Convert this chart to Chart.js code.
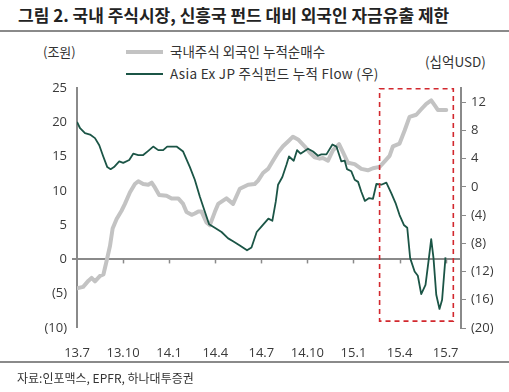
<!DOCTYPE html>
<html>
<head>
<meta charset="utf-8">
<script src="https://cdn.jsdelivr.net/npm/chart.js@4.4.1/dist/chart.umd.min.js"></script>
<style>
  html, body { margin: 0; padding: 0; background: #fff; }
  #wrap { position: relative; width: 509px; height: 392px; overflow: hidden; background: #fff;
          font-family: "Noto Sans CJK KR", "Noto Sans", sans-serif; color: #333; }
  #c { position: absolute; left: 0; top: 0; }
  .t { position: absolute; white-space: nowrap; line-height: 1; }
  #title { left: 18px; top: 6px; font-size: 17px; font-weight: bold; color: #222; }
  .rule { position: absolute; left: 0; width: 509px; height: 2px; background: #8a8a8a; }
  #unitL { left: 43px; top: 45px; font-size: 13px; }
  #unitR { left: 425px; top: 55px; font-size: 13.5px; }
  .lg { position: absolute; left: 126px; width: 37px; }
  #lg1line { top: 50px; height: 4px; background: #c3c3c3; }
  #lg2line { top: 73px; height: 2px; background: #1b5546; }
  #lg1 { left: 170px; top: 45px; font-size: 13.5px; }
  #lg2 { left: 170px; top: 67px; font-size: 13.5px; letter-spacing: 0.3px; }
  #src { left: 17px; top: 372px; font-size: 12px; }
</style>
</head>
<body>
<div id="wrap">
  <div class="t" id="title">그림 2. 국내 주식시장, 신흥국 펀드 대비 외국인 자금유출 제한</div>
  <div class="rule" style="top:30px"></div>
  <div class="t" id="unitL">(조원)</div>
  <div class="t" id="unitR">(십억USD)</div>
  <div class="lg" id="lg1line"></div>
  <div class="t" id="lg1">국내주식 외국인 누적순매수</div>
  <div class="lg" id="lg2line"></div>
  <div class="t" id="lg2">Asia Ex JP 주식펀드 누적 Flow (우)</div>
  <canvas id="c" width="509" height="392"></canvas>
  <div class="rule" style="top:361px"></div>
  <div class="t" id="src">자료:인포맥스, EPFR, 하나대투증권</div>
</div>
<script>
// x = months since Jul 2013
const xTickValues = [0, 3, 6, 9, 12, 15, 18, 21, 24];
const xTickLabels = ['13.7', '13.10', '14.1', '14.4', '14.7', '14.10', '15.1', '15.4', '15.7'];
const leftTickValues = [25, 20, 15, 10, 5, 0, -5, -10];
const rightTickValues = [12, 8, 4, 0, -4, -8, -12, -16, -20];

// 국내주식 외국인 누적순매수 (조원, left axis)
const foreignMonths = [0, 0.4, 0.75, 0.95, 1.17, 1.5, 1.72, 1.93, 2.15, 2.32, 2.58, 2.9, 3.12, 3.45, 3.77, 3.99,
  4.31, 4.64, 4.86, 5.07, 5.35, 5.83, 6.16, 6.59, 6.91, 7.13, 7.46, 7.67, 7.9, 8.1, 8.43, 8.65, 8.97, 9.19,
  9.73, 10.16, 10.6, 11.14, 11.57, 11.79, 12.11, 12.44, 12.76, 13.09, 13.41, 13.74, 14.06, 14.39, 14.82,
  15.15, 15.47, 15.8, 16.01, 16.34, 16.66, 17.06, 17.32, 17.64, 18.08, 18.51, 18.94, 19.27, 19.7, 20.03,
  20.35, 20.57, 21.0, 21.33, 21.65, 22.09, 22.41, 22.74, 23.06, 23.28, 23.49, 24.04];
const foreignValues = [-4.2, -4.0, -3.1, -2.7, -3.2, -2.4, -2.2, -0.2, 2.0, 4.5, 5.9, 7.1, 8.1, 9.8, 11.0, 11.4,
  11.0, 10.9, 11.2, 10.5, 9.4, 9.3, 8.9, 8.9, 8.1, 6.9, 6.5, 6.7, 7.0, 7.0, 5.4, 5.0, 6.9, 8.1,
  8.9, 8.1, 10.3, 10.9, 11.0, 11.5, 12.6, 13.2, 14.4, 15.6, 16.5, 17.2, 17.9, 17.5, 16.5,
  15.6, 14.9, 14.7, 14.8, 14.4, 15.9, 16.8, 15.6, 14.1, 13.9, 13.2, 13.0, 13.3, 13.5, 14.3,
  15.1, 16.5, 16.9, 18.8, 20.8, 21.1, 21.9, 22.7, 23.2, 22.5, 21.8, 21.8];

// Asia Ex JP 주식펀드 누적 Flow (십억USD, right axis)
const fundMonths = [0, 0.2, 0.52, 0.85, 1.17, 1.45, 1.71, 1.97, 2.19, 2.41, 2.75, 3.01, 3.4, 3.66, 3.99, 4.31,
  4.64, 4.96, 5.29, 5.61, 5.87, 6.48, 6.91, 7.35, 7.67, 8.0, 8.32, 8.6, 8.97, 9.41, 9.84, 10.16, 10.6, 11.07,
  11.36, 11.7, 12.02, 12.46, 12.72, 12.94, 13.09, 13.37, 13.63, 13.8, 14.11, 14.33, 14.55, 15.04, 15.37,
  15.69, 15.91, 16.24, 16.63, 16.89, 17.21, 17.43, 17.58, 17.86, 18.08, 18.3, 18.51, 18.74, 19.02, 19.27,
  19.49, 19.81, 20.14, 20.46, 20.74, 21.0, 21.28, 21.5, 21.69, 21.98, 22.19, 22.41, 22.69, 22.91, 23.06,
  23.21, 23.39, 23.6, 23.77, 23.99];
const fundValues = [9.2, 8.3, 7.6, 7.4, 6.9, 5.9, 4.3, 2.8, 2.5, 2.8, 3.6, 3.4, 3.8, 4.7, 4.5, 4.5,
  5.1, 5.7, 5.2, 5.2, 5.7, 5.7, 5.0, 2.8, 1.0, -1.4, -3.5, -5.3, -5.8, -6.4, -7.3, -7.7, -8.3, -9.0,
  -8.6, -6.4, -5.6, -4.5, -4.8, -2.1, 0.3, 1.4, 3.1, 4.3, 3.7, 5.2, 4.7, 5.4, 5.0,
  4.4, 4.6, 4.6, 6.0, 5.7, 3.6, 3.7, 2.5, 2.2, 1.0, 0.7, -0.7, -2.0, -1.6, -1.7,
  0.4, 0.3, 0.6, -0.9, -2.3, -4.0, -5.4, -5.8, -10.1, -12.0, -12.6, -15.2, -13.9, -10.1, -7.4,
  -10.1, -15.3, -17.3, -16.0, -10.0];

// highlighted period (months) and its extent on the left axis
const highlightMonths = [19.7, 24.5];
const highlightLeftValues = [24.9, -9.0];

const AXIS = '#8a8a8a';
const LABEL = '#3a3a3a';
const fmt = v => (v < 0 ? '(' + (-v) + ')' : String(v));

const zeroTicks = {
  id: 'zeroTicks',
  beforeDatasetsDraw(chart) {
    const { ctx, scales: { x, y } } = chart;
    const y0 = y.getPixelForValue(0);
    ctx.save();
    ctx.strokeStyle = AXIS; ctx.lineWidth = 1.5;
    xTickValues.forEach(v => {
      if (v === 0) return;
      const px = Math.round(x.getPixelForValue(v)) + 0.5;
      ctx.beginPath(); ctx.moveTo(px, y0); ctx.lineTo(px, y0 + 4); ctx.stroke();
    });
    ctx.restore();
  },
  afterDatasetsDraw(chart) {
    const { ctx, scales: { x, y } } = chart;
    const x1 = x.getPixelForValue(highlightMonths[0]);
    const x2 = x.getPixelForValue(highlightMonths[1]);
    const y1 = y.getPixelForValue(highlightLeftValues[0]);
    const y2 = y.getPixelForValue(highlightLeftValues[1]);
    ctx.save();
    ctx.strokeStyle = '#d2282e'; ctx.lineWidth = 1.6;
    ctx.setLineDash([5, 4]);
    ctx.strokeRect(x1, y1, x2 - x1, y2 - y1);
    ctx.restore();
  }
};

new Chart(document.getElementById('c'), {
  type: 'line',
  data: {
    datasets: [
      {
        label: '국내주식 외국인 누적순매수',
        data: foreignMonths.map((m, i) => ({ x: m, y: foreignValues[i] })),
        yAxisID: 'y', borderColor: '#c3c3c3', borderWidth: 4, pointRadius: 0,
        borderJoinStyle: 'round', borderCapStyle: 'round', tension: 0, order: 2
      },
      {
        label: 'Asia Ex JP 주식펀드 누적 Flow (우)',
        data: fundMonths.map((m, i) => ({ x: m, y: fundValues[i] })),
        yAxisID: 'y2', borderColor: '#1b5546', borderWidth: 1.8, pointRadius: 0,
        borderJoinStyle: 'round', tension: 0, order: 1
      }
    ]
  },
  options: {
    responsive: false, animation: false, devicePixelRatio: 1,
    layout: { padding: { left: 0, right: 0, top: 88, bottom: 0 } },
    plugins: { legend: { display: false }, tooltip: { enabled: false } },
    scales: {
      x: {
        type: 'linear', min: 0, max: 25,
        grid: { display: false }, border: { display: false },
        afterBuildTicks: s => { s.ticks = xTickValues.map(v => ({ value: v })); },
        afterFit: s => { s.height = 64; },
        ticks: { padding: 9, color: LABEL, maxRotation: 0, autoSkip: false,
          font: { family: '"Open Sans", "Noto Sans", sans-serif', size: 13 },
          callback: (v, i) => xTickLabels[i] }
      },
      y: {
        position: 'left', min: -10, max: 25,
        afterBuildTicks: s => { s.ticks = leftTickValues.map(v => ({ value: v })); },
        afterFit: s => { s.width = 77; },
        border: { color: AXIS, width: 2 },
        grid: {
          drawOnChartArea: true, tickLength: 5, tickColor: AXIS,
          color: c => (c.tick && c.tick.value === 0 ? AXIS : 'rgba(0,0,0,0)'),
          lineWidth: c => (c.tick && c.tick.value === 0 ? 2 : 0)
        },
        ticks: { padding: 5, color: LABEL, font: { family: '"Open Sans", "Noto Sans", sans-serif', size: 13 },
          callback: v => fmt(v) }
      },
      y2: {
        position: 'right', min: -20, max: 14,
        afterBuildTicks: s => { s.ticks = rightTickValues.map(v => ({ value: v })); },
        afterFit: s => { s.width = 48; },
        border: { color: AXIS, width: 2 },
        grid: { drawOnChartArea: false, tickLength: 5, color: AXIS },
        ticks: { padding: 5, color: LABEL, font: { family: '"Open Sans", "Noto Sans", sans-serif', size: 13 },
          callback: v => fmt(v) }
      }
    }
  },
  plugins: [zeroTicks]
});
</script>
</body>
</html>
